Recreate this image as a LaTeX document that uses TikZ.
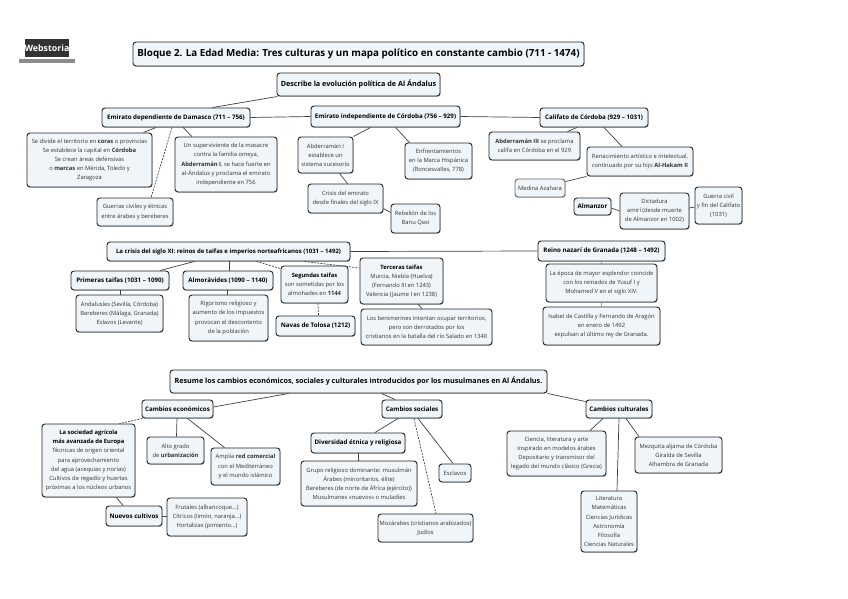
\documentclass[tikz,border=0pt]{standalone}
\usepackage{fontspec}
\setmainfont{Open Sans}
\usetikzlibrary{shadows}
\definecolor{boxfill}{HTML}{EFF5F8}
\newcommand{\BoxText}{}
\newcommand{\bx}[6][]{\node[boxn,#1,minimum width={(#4-#2)*1pt},minimum height={(#5-#3)*1pt}] (#6) at ({(#2+#4)/2},{(#3+#5)/2}) {\BoxText};}
\newcommand{\nbox}[7][]{\renewcommand{\BoxText}{#7}\bx[#1]{#2}{#3}{#4}{#5}{#6}}
\tikzset{
  boxn/.style={draw=black!85,line width=0.95pt,rounded corners=3pt,fill=boxfill,inner sep=0pt,align=center,
    font=\fontsize{5.8}{9.1}\selectfont,text=black!80,
    drop shadow={shadow xshift=0.5pt,shadow yshift=-0.9pt,fill=black!35,opacity=0.7}},
  hd/.style={font=\fontsize{6.2}{9}\selectfont\bfseries,text=black},
  hdl/.style={font=\fontsize{7.2}{9}\selectfont\bfseries,text=black},
  link/.style={draw=black!75,line width=0.7pt},
  dlink/.style={draw=black!75,line width=0.7pt,dash pattern=on 2pt off 1.2pt},
}
\begin{document}
\begin{tikzpicture}[x=1pt,y=-1pt]
\useasboundingbox (0,0) rectangle (848,599);
\fill[white] (0,0) rectangle (848,599);
% logo
\node[fill=black!80,text=white,inner sep=0pt,minimum width=40pt,minimum height=18pt,font=\fontsize{8.8}{9}\selectfont\bfseries] (logo) at (47,48) {Webstoria};
\fill[black!45] (19,59) rectangle (75,63);
% title
\nbox[font=\fontsize{9.8}{12}\selectfont\bfseries,text=black]{133}{42}{584}{66}{title}{Bloque 2. La Edad Media: Tres culturas y un mapa político en constante cambio (711 - 1474)}
\nbox[hdl]{277}{73}{440}{96}{desc}{Describe la evolución política de Al Ándalus}
% row 1
\nbox[hd]{102}{108}{250}{127}{dep}{Emirato dependiente de Damasco (711 – 756)}
\nbox{27}{133}{152}{187}{divide}{Se divide el territorio en \textbf{coras} o provincias\\Se establece la capital en \textbf{Córdoba}\\Se crean áreas defensivas\\o \textbf{marcas} en Mérida, Toledo y\\Zaragoza}
\nbox{175}{137}{277}{192}{desc1}{Un superviviente de la masacre\\contra la familia omeya,\\\textbf{Abderramán I}, se hace fuerte en\\al-Ándalus y proclama el emirato\\independiente en 756}
\nbox{97}{198}{173}{226}{guerras}{Guerras civiles y étnicas\\entre árabes y bereberes}
\nbox[hd]{311}{106}{460}{127}{indep}{Emirato independiente de Córdoba (756 – 929)}
\nbox{298}{137}{353}{173}{abdi}{Abderramán I\\establece un\\sistema sucesorio}
\nbox{405}{143}{472}{179}{enfr}{Enfrentamientos\\en la Marca Hispánica\\(Roncesvalles, 778)}
\nbox{308}{184}{383}{213}{crisise}{Crisis del emirato\\desde finales del siglo IX}
\nbox{391}{204}{440}{233}{rebel}{Rebelión de los\\Banu Qasi}
\nbox[hd]{540}{108}{648}{127}{calif}{Califato de Córdoba (929 – 1031)}
\nbox{489}{132}{580}{160}{abdiii}{\textbf{Abderramán III} se proclama\\califa en Córdoba en el 929}
\nbox{587}{147}{693}{176}{renac}{Renacimiento artístico e intelectual,\\continuado por su hijo \textbf{Al-Hakam II}}
\nbox[draw=black!60]{515}{179}{565}{197}{medina}{Medina Azahara}
\nbox[hd]{574}{198}{611}{215}{alman}{Almanzor}
\nbox{620}{193}{689}{229}{dict}{Dictadura\\amirí (desde muerte\\de Almanzor en 1002)}
\nbox{695}{187}{742}{224}{gcivil}{Guerra civil\\y fin del Califato\\(1031)}
% row 2
\nbox[hd,font=\fontsize{6}{9}\selectfont\bfseries]{107}{242}{350}{261}{crisis}{La crisis del siglo XI: reinos de taifas e imperios norteafricanos (1031 – 1492)}
\nbox[hd]{71}{271}{169}{290}{prim}{Primeras taifas (1031 – 1090)}
\nbox{76}{295}{163}{332}{anda}{Andalusíes (Sevilla, Córdoba)\\Bereberes (Málaga, Granada)\\Eslavos (Levante)}
\nbox[hd]{183}{271}{273}{290}{almor}{Almorávides (1090 – 1140)}
\nbox{189}{295}{268}{341}{rigor}{Rigorismo religioso y\\aumento de los impuestos\\provocan el descontento\\de la población}
\nbox{281}{266}{348}{303}{seg}{\textbf{\textcolor{black}{Segundas taifas}}\\son sometidas por los\\almohades en \textbf{1144}}
\nbox[hd]{276}{316}{355}{336}{navas}{Navas de Tolosa (1212)}
\nbox{360}{258}{443}{304}{terc}{\textbf{\textcolor{black}{Terceras taifas}}\\Murcia, Niebla (Huelva)\\(Fernando III en 1243)\\Valencia (Jaume I en 1238)}
\nbox{361}{309}{492}{345}{benim}{Los benimerines intentan ocupar territorios,\\pero son derrotados por los\\cristianos en la batalla del río Salado en 1340}
\nbox[hd]{538}{241}{665}{261}{reino}{Reino nazarí de Granada (1248 – 1492)}
\nbox{546}{264}{657}{302}{epoca}{La época de mayor esplendor coincide\\con los reinados de Yusuf I y\\Mohamed V en el siglo XIV.}
\nbox{543}{307}{660}{345}{isabel}{Isabel de Castilla y Fernando de Aragón\\en enero de 1492\\expulsan al último rey de Granada.}
% row 3
\nbox[font=\fontsize{7.2}{9}\selectfont\bfseries,text=black]{170}{370}{547}{393}{resume}{Resume los cambios económicos, sociales y culturales introducidos por los musulmanes en Al Ándalus.}
\nbox[hd]{142}{400}{213}{418}{econ}{Cambios económicos}
\nbox{42}{424}{135}{497}{socag}{\textbf{\textcolor{black}{La sociedad agrícola}}\\\textbf{\textcolor{black}{más avanzada de Europa}}\\Técnicas de origen oriental\\para aprovechamiento\\del agua (acequias y norias)\\Cultivos de regadío y huertas\\próximas a los núcleos urbanos}
\nbox{147}{437}{204}{464}{alto}{Alto grado\\de \textbf{urbanización}}
\nbox{211}{448}{280}{485}{ampl}{Amplia \textbf{red comercial}\\con el Mediterráneo\\y el mundo islámico}
\nbox[hd]{106}{506}{162}{526}{nuevos}{Nuevos cultivos}
\nbox{167}{498}{247}{536}{frut}{Frutales (albaricoque...)\\Cítricos (limón, naranja...)\\Hortalizas (pimiento...)}
\nbox[hd]{382}{400}{442}{418}{soc}{Cambios sociales}
\nbox[hd]{311}{433}{405}{453}{divers}{Diversidad étnica y religiosa}
\nbox{301}{461}{417}{506}{grupo}{Grupo religioso dominante: musulmán\\Árabes (minoritarios, élite)\\Bereberes (de norte de África (ejército))\\Musulmanes «nuevos» o muladíes}
\nbox{439}{464}{471}{482}{escl}{Esclavos}
\nbox{378}{514}{473}{542}{moz}{Mozárabes (cristianos arabizados)\\Judíos}
\nbox[hd]{586}{400}{652}{418}{cult}{Cambios culturales}
\nbox{507}{431}{606}{476}{cien}{Ciencia, literatura y arte\\inspirado en modelos árabes\\Depositario y transmisor del\\legado del mundo clásico (Grecia)}
\nbox{635}{437}{722}{473}{mezq}{Mezquita aljama de Córdoba\\Giralda de Sevilla\\Alhambra de Granada}
\nbox{581}{491}{637}{552}{lit}{Literatura\\Matemáticas\\Ciencias Jurídicas\\Astronomía\\Filosofía\\Ciencias Naturales}
% connectors
\draw[link] ([xshift=1pt]desc.south west) -- ([xshift=111pt]dep.north west);
\draw[link] (dep.east) -- (indep.west);
\draw[link] (indep.east) -- (calif.west);
\draw[link] ([xshift=54pt]divide.north) -- ([xshift=-20pt]dep.south) ;
\draw[dlink] ([xshift=-4pt]dep.south) -- ([xshift=16pt]guerras.north);
\draw[link] ([xshift=7pt]dep.south) -- ([xshift=-34pt]desc1.north);
\draw[link] ([xshift=-15pt]indep.south) -- (abdi.north east);
\draw[link] ([xshift=10pt]indep.south) -- ([xshift=-29pt]enfr.north);
\draw[link] ([xshift=14pt]abdi.south) -- ([xshift=2pt]crisise.north);
\draw[link] ([yshift=5pt]crisise.south east) -- ([yshift=-9pt]rebel.north west);
\draw[link] ([xshift=-17pt]calif.south) -- ([xshift=33pt]abdiii.north);
\draw[link] ([xshift=10pt]calif.south) -- ([xshift=-18pt]renac.north);
\draw[link] (renac.south west) -- ([yshift=-3pt]medina.north east);
\draw[link] ([yshift=-1.5pt]alman.east) -- (dict.west);
\draw[link] ([yshift=3pt]dict.east) -- ([yshift=-1.5pt]gcivil.west);
\draw[link] ([xshift=-34pt]crisis.south) -- ([xshift=40pt]prim.north);
\draw[link] ([xshift=0.5pt]crisis.south) -- ([xshift=1pt]almor.north);
\draw[dlink] ([xshift=28pt]crisis.south) -- ([yshift=-3pt]seg.north west);
\draw[dlink] ([xshift=76pt]crisis.south) -- ([yshift=13pt]terc.west);
\draw[link] (crisis.east) -- (reino.west);
\draw[link] (prim.south) -- (prim.south |- anda.north);
\draw[link] ([xshift=-0.5pt]almor.south) -- ([xshift=-0.5pt]almor.south |- rigor.north);
\draw[dlink] ([xshift=3.5pt]seg.south) -- ([xshift=3pt]navas.north);
\draw[link] ([xshift=16.5pt]terc.south) -- ([xshift=-4.5pt]benim.north);
\draw[link,draw=black!40] (reino.south) -- (epoca.north);
\draw[link,draw=black!40] (epoca.south) -- (isabel.north);
\draw[link] ([xshift=-70pt]resume.south) -- ([yshift=2pt]econ.east);
\draw[link] ([xshift=23pt]resume.south) -- ([xshift=-17pt]soc.north);
\draw[link] (resume.south east) -- ([yshift=-2pt]cult.north west);
\draw[dlink] ([xshift=-35pt]econ.south) -- ([xshift=31pt]socag.north);
\draw[link] ([xshift=-0.5pt]econ.south) -- ([xshift=1pt]alto.north);
\draw[link] ([xshift=10pt]econ.south) -- ([xshift=-21pt]ampl.north);
\draw[link] ([xshift=28pt]socag.south) -- ([xshift=-11pt]nuevos.north);
\draw[link] (nuevos.east) -- (nuevos.east -| frut.west);
\draw[link] ([xshift=-14pt]soc.south) -- ([xshift=17pt]divers.north);
\draw[link] ([xshift=6pt]soc.south) -- ([xshift=-2pt]escl.north);
\draw[dlink] ([xshift=2pt]soc.south) -- ([xshift=10.5pt]moz.north);
\draw[link] ([xshift=0pt]divers.south) -- (divers.south |- grupo.north);
\draw[link] ([xshift=-16pt]cult.south) -- ([xshift=33.5pt]cien.north);
\draw[link] ([xshift=0pt]cult.south) -- ([xshift=8pt]lit.north);
\draw[link] ([xshift=7pt]cult.south) -- ([xshift=-39.5pt]mezq.north);
\end{tikzpicture}
\end{document}
